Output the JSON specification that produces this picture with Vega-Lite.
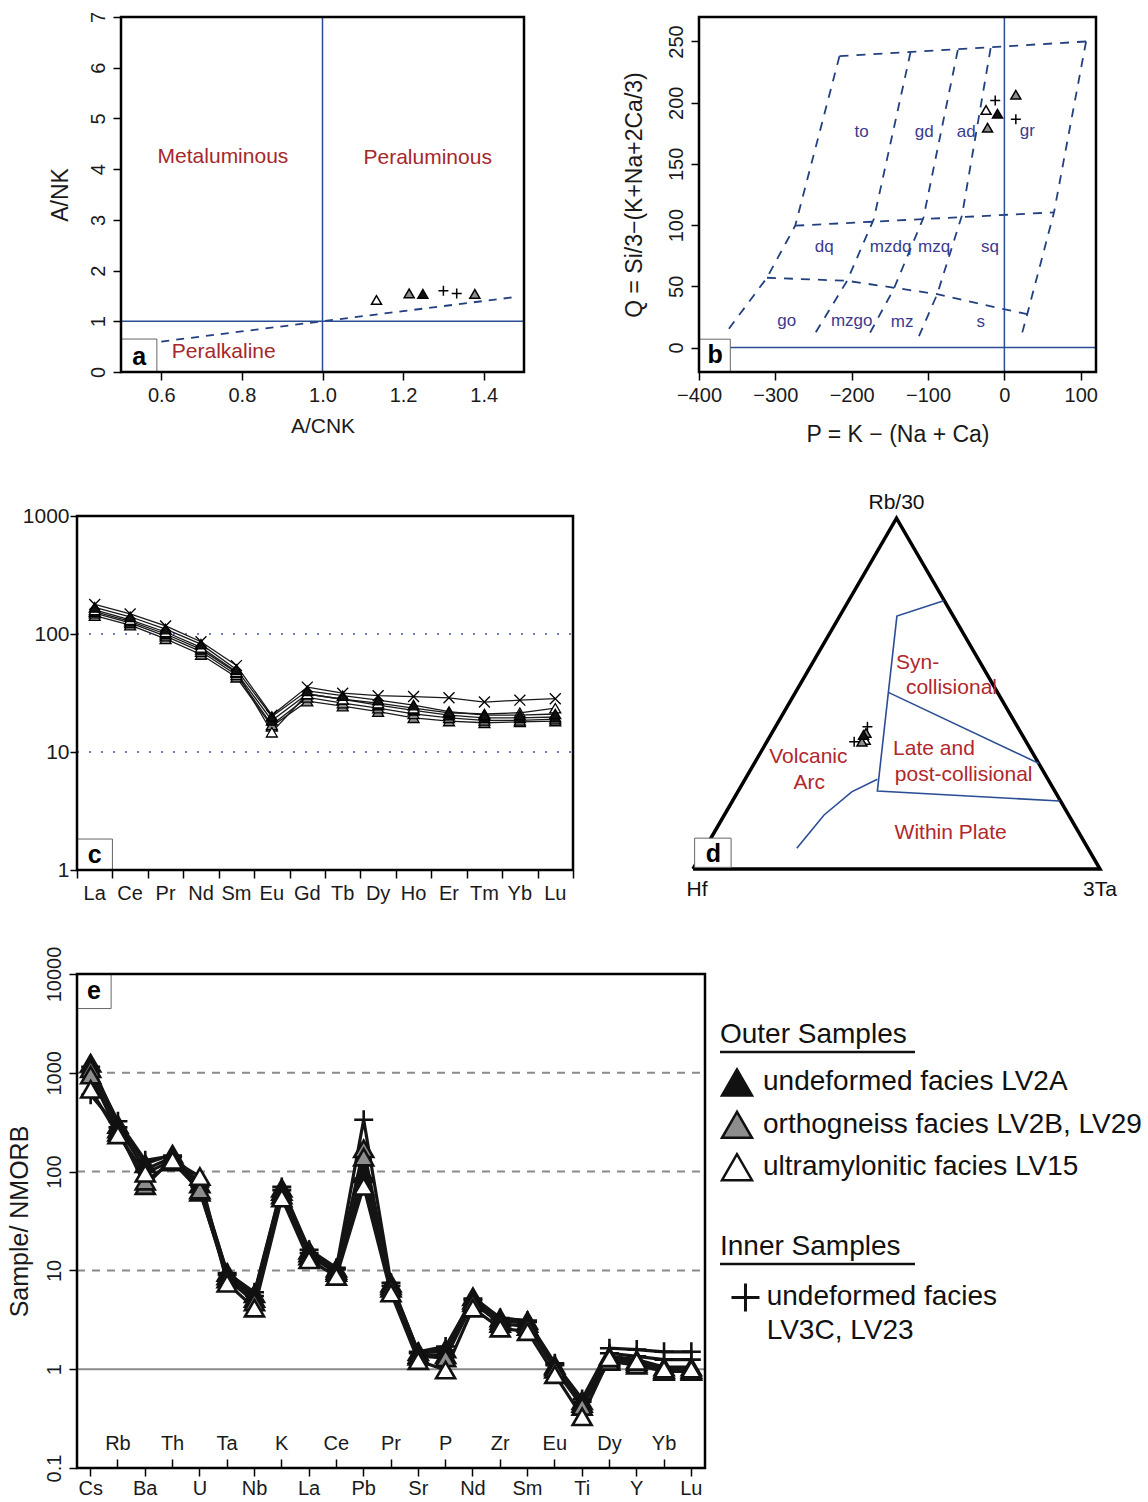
{
"$schema": "https://vega.github.io/schema/vega-lite/v6.json",
"background": "white",
"width": 1148,
"height": 1502,
"autosize": {"type": "none"},
"padding": 0,
"config": {
  "font": "Liberation Sans",
  "view": {"stroke": null},
  "axis": {"domain": false, "grid": false, "ticks": true, "tickColor": "#000", "tickWidth": 1.5, "tickSize": 8, "labelFont": "Liberation Sans", "labelFontSize": 20, "labelColor": "#1a1a1a", "labelPadding": 5, "labelFlush": false, "labelOverlap": false, "labelBound": false, "titleFont": "Liberation Sans", "titleFontSize": 21, "titleFontWeight": "normal", "titleColor": "#1a1a1a"},
  "text": {"font": "Liberation Sans"},
  "point": {"opacity": 1}
},
"datasets": {
  "aLine": [{"acnk": 0.6, "ank": 0.6}, {"acnk": 1.47, "ank": 1.47}],
  "aText": [{"label": "Metaluminous", "acnk": 0.753, "ank": 4.245}, {"label": "Peraluminous", "acnk": 1.261, "ank": 4.226}, {"label": "Peralkaline", "acnk": 0.755, "ank": 0.4}],
  "aPts": [
    {"acnk": 1.134, "ank": 1.42, "facies": "ultramylonitic"},
    {"acnk": 1.215, "ank": 1.55, "facies": "orthogneiss"},
    {"acnk": 1.249, "ank": 1.54, "facies": "undeformed"},
    {"acnk": 1.30, "ank": 1.60, "facies": "inner"},
    {"acnk": 1.333, "ank": 1.55, "facies": "inner"},
    {"acnk": 1.378, "ank": 1.54, "facies": "orthogneiss"}
  ],
  "bGrid": [
    {"seg": 1, "P": -216, "Q": 238}, {"seg": 1, "P": 107, "Q": 250},
    {"seg": 2, "P": -216, "Q": 238}, {"seg": 2, "P": -274, "Q": 99.5}, {"seg": 2, "P": -311, "Q": 57}, {"seg": 2, "P": -366, "Q": 11},
    {"seg": 3, "P": -274, "Q": 99.5}, {"seg": 3, "P": 65, "Q": 110.4},
    {"seg": 4, "P": -311, "Q": 57}, {"seg": 4, "P": -206, "Q": 54.5}, {"seg": 4, "P": -88, "Q": 43.6}, {"seg": 4, "P": -1, "Q": 31.4}, {"seg": 4, "P": 30, "Q": 27.3},
    {"seg": 5, "P": -123, "Q": 241}, {"seg": 5, "P": -171, "Q": 105}, {"seg": 5, "P": -206, "Q": 54.5}, {"seg": 5, "P": -250, "Q": 9.5},
    {"seg": 6, "P": -61, "Q": 243}, {"seg": 6, "P": -106, "Q": 106}, {"seg": 6, "P": -145, "Q": 47.7}, {"seg": 6, "P": -176, "Q": 12},
    {"seg": 7, "P": -18, "Q": 244.5}, {"seg": 7, "P": -55.5, "Q": 108}, {"seg": 7, "P": -88, "Q": 43.6}, {"seg": 7, "P": -114.5, "Q": 5.5},
    {"seg": 8, "P": 107, "Q": 250}, {"seg": 8, "P": 65, "Q": 110.4}, {"seg": 8, "P": 30, "Q": 27.3}, {"seg": 8, "P": 21, "Q": 6.8}
  ],
  "bText": [
    {"label": "to", "P": -187, "Q": 176}, {"label": "gd", "P": -105, "Q": 176}, {"label": "ad", "P": -50, "Q": 176}, {"label": "gr", "P": 30, "Q": 177},
    {"label": "dq", "P": -236, "Q": 82}, {"label": "mzdq", "P": -149, "Q": 82}, {"label": "mzq", "P": -92, "Q": 82}, {"label": "sq", "P": -19, "Q": 82},
    {"label": "go", "P": -285, "Q": 22}, {"label": "mzgo", "P": -200, "Q": 22}, {"label": "mz", "P": -134, "Q": 21}, {"label": "s", "P": -31, "Q": 21}
  ],
  "bPts": [
    {"P": 15, "Q": 206.5, "facies": "orthogneiss"},
    {"P": -12, "Q": 201.7, "facies": "inner"},
    {"P": -24, "Q": 194, "facies": "ultramylonitic"},
    {"P": -9, "Q": 191, "facies": "undeformed"},
    {"P": 15, "Q": 186.5, "facies": "inner"},
    {"P": -22, "Q": 179.5, "facies": "orthogneiss"}
  ],
  "ree": [
    {"sample": "LV29", "facies": "orthogneiss", "La": 143, "Ce": 119, "Pr": 91, "Nd": 67, "Sm": 43, "Eu": 16.5, "Gd": 27, "Tb": 24.5, "Dy": 22, "Ho": 19.5, "Er": 18.3, "Tm": 17.7, "Yb": 18, "Lu": 18.3},
    {"sample": "LV2B", "facies": "orthogneiss", "La": 150, "Ce": 124, "Pr": 96, "Nd": 71, "Sm": 45, "Eu": 17, "Gd": 29, "Tb": 26, "Dy": 23.5, "Ho": 21, "Er": 19.5, "Tm": 18.5, "Yb": 18.5, "Lu": 19},
    {"sample": "LV23", "facies": "undeformed", "La": 155, "Ce": 128, "Pr": 100, "Nd": 74, "Sm": 47, "Eu": 18.5, "Gd": 31, "Tb": 28, "Dy": 25, "Ho": 22.5, "Er": 20.5, "Tm": 19.5, "Yb": 19.5, "Lu": 19.8},
    {"sample": "LV15", "facies": "ultramylonitic", "La": 160, "Ce": 132, "Pr": 104, "Nd": 77, "Sm": 48, "Eu": 14.7, "Gd": 31, "Tb": 28, "Dy": 26, "Ho": 23.5, "Er": 21.5, "Tm": 21, "Yb": 21.5, "Lu": 23.5},
    {"sample": "LV2A", "facies": "undeformed", "La": 168, "Ce": 140, "Pr": 110, "Nd": 82, "Sm": 50, "Eu": 20, "Gd": 33, "Tb": 30, "Dy": 27.5, "Ho": 25, "Er": 22, "Tm": 20.5, "Yb": 20.5, "Lu": 21},
    {"sample": "LV3C", "facies": "inner", "La": 178, "Ce": 148, "Pr": 117, "Nd": 86, "Sm": 54, "Eu": 20.5, "Gd": 35.5, "Tb": 31.5, "Dy": 30, "Ho": 29.5, "Er": 28.8, "Tm": 26.5, "Yb": 27.5, "Lu": 28.3}
  ],
  "dTri": [{"tx": 0, "ty": 0}, {"tx": 1, "ty": 0}, {"tx": 0.5, "ty": 0.864}, {"tx": 0, "ty": 0}],
  "dLines": [
    {"seg": 1, "tx": 0.616, "ty": 0.661}, {"seg": 1, "tx": 0.501, "ty": 0.623}, {"seg": 1, "tx": 0.480, "ty": 0.435}, {"seg": 1, "tx": 0.453, "ty": 0.192}, {"seg": 1, "tx": 0.901, "ty": 0.1675},
    {"seg": 2, "tx": 0.480, "ty": 0.435}, {"seg": 2, "tx": 0.850, "ty": 0.260},
    {"seg": 3, "tx": 0.453, "ty": 0.221}, {"seg": 3, "tx": 0.390, "ty": 0.190}, {"seg": 3, "tx": 0.322, "ty": 0.133}, {"seg": 3, "tx": 0.255, "ty": 0.051}
  ],
  "dText": [
    {"label": "Syn-", "tx": 0.552, "ty": 0.507}, {"label": "collisional", "tx": 0.635, "ty": 0.445},
    {"label": "Late and", "tx": 0.592, "ty": 0.295}, {"label": "post-collisional", "tx": 0.665, "ty": 0.232},
    {"label": "Volcanic", "tx": 0.2835, "ty": 0.277}, {"label": "Arc", "tx": 0.2857, "ty": 0.211},
    {"label": "Within Plate", "tx": 0.633, "ty": 0.088}
  ],
  "dCorner": [{"label": "Rb/30", "tx": 0.5, "ty": 0.901}, {"label": "Hf", "tx": 0.01, "ty": -0.052}, {"label": "3Ta", "tx": 1.0, "ty": -0.052}],
  "dPts": [
    {"tx": 0.4286, "ty": 0.3505, "facies": "inner"},
    {"tx": 0.396, "ty": 0.3135, "facies": "inner"},
    {"tx": 0.423, "ty": 0.318, "facies": "ultramylonitic"},
    {"tx": 0.415, "ty": 0.3135, "facies": "orthogneiss"},
    {"tx": 0.425, "ty": 0.335, "facies": "orthogneiss"},
    {"tx": 0.419, "ty": 0.330, "facies": "undeformed"}
  ],
  "spider": [
    {"sample": "LV3C", "facies": "inner", "Cs": 1150, "Rb": 323, "Ba": 130, "Th": 145, "U": 72, "Ta": 9.4, "Nb": 6.0, "K": 70, "La": 16.2, "Ce": 10.6, "Pb": 335, "Pr": 7.5, "Sr": 1.5, "P": 1.7, "Nd": 5.2, "Zr": 3.3, "Sm": 3.1, "Eu": 1.15, "Ti": 0.5, "Dy": 1.63, "Y": 1.58, "Yb": 1.5, "Lu": 1.5},
    {"sample": "LV23", "facies": "inner", "Cs": 600, "Rb": 280, "Ba": 105, "Th": 140, "U": 70, "Ta": 9.0, "Nb": 5.5, "K": 65, "La": 15, "Ce": 10.2, "Pb": 85, "Pr": 7.0, "Sr": 1.45, "P": 1.55, "Nd": 5.0, "Zr": 3.2, "Sm": 3.0, "Eu": 1.1, "Ti": 0.47, "Dy": 1.45, "Y": 1.35, "Yb": 1.25, "Lu": 1.25},
    {"sample": "LV2A", "facies": "undeformed", "Cs": 1250, "Rb": 300, "Ba": 120, "Th": 150, "U": 75, "Ta": 9.5, "Nb": 5.8, "K": 68, "La": 16, "Ce": 10.5, "Pb": 95, "Pr": 7.4, "Sr": 1.5, "P": 1.6, "Nd": 5.4, "Zr": 3.3, "Sm": 3.1, "Eu": 1.1, "Ti": 0.48, "Dy": 1.35, "Y": 1.25, "Yb": 1.05, "Lu": 1.05},
    {"sample": "LV2B", "facies": "orthogneiss", "Cs": 1100, "Rb": 270, "Ba": 72, "Th": 135, "U": 62, "Ta": 8.8, "Nb": 5.2, "K": 63, "La": 15, "Ce": 10, "Pb": 170, "Pr": 7.0, "Sr": 1.4, "P": 1.4, "Nd": 5.0, "Zr": 3.1, "Sm": 2.9, "Eu": 1.05, "Ti": 0.45, "Dy": 1.25, "Y": 1.15, "Yb": 0.98, "Lu": 0.98},
    {"sample": "LV29", "facies": "orthogneiss", "Cs": 950, "Rb": 250, "Ba": 80, "Th": 125, "U": 65, "Ta": 8.2, "Nb": 4.8, "K": 58, "La": 14, "Ce": 9.5, "Pb": 140, "Pr": 6.6, "Sr": 1.35, "P": 1.3, "Nd": 4.7, "Zr": 2.9, "Sm": 2.7, "Eu": 1.0, "Ti": 0.42, "Dy": 1.2, "Y": 1.1, "Yb": 0.95, "Lu": 0.95},
    {"sample": "LV15", "facies": "ultramylonitic", "Cs": 680, "Rb": 235, "Ba": 96, "Th": 130, "U": 89, "Ta": 7.4, "Nb": 4.15, "K": 54, "La": 12.8, "Ce": 8.7, "Pb": 71, "Pr": 5.9, "Sr": 1.22, "P": 0.98, "Nd": 4.15, "Zr": 2.6, "Sm": 2.4, "Eu": 0.88, "Ti": 0.33, "Dy": 1.3, "Y": 1.2, "Yb": 1.0, "Lu": 1.0}
  ],
  "legendRows": [
    {"line": 0, "kind": "title", "label": "Outer Samples"},
    {"line": 5, "kind": "title", "label": "Inner Samples"},
    {"line": 1, "kind": "outer", "label": "undeformed facies LV2A", "facies": "undeformed"},
    {"line": 2, "kind": "outer", "label": "orthogneiss facies LV2B, LV29", "facies": "orthogneiss"},
    {"line": 3, "kind": "outer", "label": "ultramylonitic facies LV15", "facies": "ultramylonitic"},
    {"line": 6, "kind": "inner1", "label": "undeformed facies", "facies": "inner"},
    {"line": 7, "kind": "inner2", "label": "LV3C, LV23"}
  ]
},
"resolve": {"scale": {"x": "independent", "y": "independent", "shape": "independent", "fill": "independent"}, "axis": {"x": "independent", "y": "independent"}},
"layer": [
  {
    "layer": [
      {"data": {"name": "aLine"}, "mark": {"type": "line", "stroke": "#22407f", "strokeWidth": 1.8, "strokeDash": [8, 7]},
       "encoding": {
         "x": {"field": "acnk", "type": "quantitative", "scale": {"domain": [0.5, 1.5], "range": [121, 524], "nice": false, "zero": false}, "axis": {"orient": "bottom", "offset": -1130, "values": [0.6, 0.8, 1.0, 1.2, 1.4], "format": ".1f", "title": "A/CNK", "titlePadding": 10}},
         "y": {"field": "ank", "type": "quantitative", "scale": {"domain": [0, 7], "range": [372, 17], "nice": false, "zero": false}, "axis": {"orient": "left", "offset": -121, "values": [0, 1, 2, 3, 4, 5, 6, 7], "format": "d", "labelAngle": -90, "labelAlign": "center", "labelBaseline": "bottom", "title": "A/NK", "titlePadding": 16, "titleFontSize": 23}}
       }},
      {"data": {"values": [{}]}, "mark": {"type": "rule", "stroke": "#2b4d94", "strokeWidth": 1.5}, "encoding": {"x": {"datum": 1}, "y": {"datum": 0}, "y2": {"datum": 7}}},
      {"data": {"values": [{}]}, "mark": {"type": "rule", "stroke": "#2b4d94", "strokeWidth": 1.5}, "encoding": {"y": {"datum": 1}, "x": {"datum": 0.5}, "x2": {"datum": 1.5}}},
      {"data": {"name": "aText"}, "mark": {"type": "text", "color": "#a5282c", "fontSize": 21, "align": "center", "baseline": "middle"},
       "encoding": {"x": {"field": "acnk", "type": "quantitative"}, "y": {"field": "ank", "type": "quantitative"}, "text": {"field": "label"}}},
      {"data": {"values": [{}]}, "mark": {"type": "rect", "fill": "white", "stroke": "#666", "strokeWidth": 1}, "encoding": {"x": {"datum": 0.5}, "x2": {"datum": 0.589}, "y": {"datum": 0}, "y2": {"datum": 0.65}}},
      {"data": {"values": [{}]}, "mark": {"type": "text", "text": "a", "fontSize": 25, "fontWeight": "bold", "align": "center", "baseline": "middle", "color": "#000"}, "encoding": {"x": {"datum": 0.545}, "y": {"datum": 0.3}}},
      {"data": {"name": "aPts"}, "mark": {"type": "point", "filled": true, "size": 100, "strokeWidth": 1.5, "opacity": 1},
       "encoding": {
         "x": {"field": "acnk", "type": "quantitative"}, "y": {"field": "ank", "type": "quantitative"},
         "shape": {"field": "facies", "type": "nominal", "scale": {"domain": ["undeformed", "orthogneiss", "ultramylonitic", "inner"], "range": ["triangle-up", "triangle-up", "triangle-up", "M-1,0H1M0,-1V1"]}, "legend": null},
         "fill": {"field": "facies", "type": "nominal", "scale": {"domain": ["undeformed", "orthogneiss", "ultramylonitic", "inner"], "range": ["#111111", "#8d8d8d", "#ffffff", "transparent"]}, "legend": null},
         "stroke": {"value": "#000"}
       }},
      {"data": {"values": [{}]}, "mark": {"type": "rect", "fill": "transparent", "stroke": "#000", "strokeWidth": 2.5}, "encoding": {"x": {"datum": 0.5}, "x2": {"datum": 1.5}, "y": {"datum": 0}, "y2": {"datum": 7}}}
    ]
  },
  {
    "layer": [
      {"data": {"name": "bGrid"}, "mark": {"type": "line", "stroke": "#22407f", "strokeWidth": 1.8, "strokeDash": [9, 8]},
       "encoding": {
         "x": {"field": "P", "type": "quantitative", "scale": {"domain": [-400, 120], "range": [699, 1096], "nice": false, "zero": false}, "axis": {"orient": "bottom", "offset": -1130, "values": [-400, -300, -200, -100, 0, 100], "title": "P = K − (Na + Ca)", "titleFontSize": 23, "titlePadding": 18}},
         "y": {"field": "Q", "type": "quantitative", "scale": {"domain": [-20, 270], "range": [372, 17], "nice": false, "zero": false}, "axis": {"orient": "left", "offset": -699, "values": [0, 50, 100, 150, 200, 250], "labelAngle": -90, "labelAlign": "center", "labelBaseline": "bottom", "title": "Q = Si/3−(K+Na+2Ca/3)", "titleFontSize": 23, "titlePadding": 20}},
         "detail": {"field": "seg"},
         "order": {"value": null}
       }},
      {"data": {"values": [{}]}, "mark": {"type": "rule", "stroke": "#2b4d94", "strokeWidth": 1.5}, "encoding": {"x": {"datum": 0}, "y": {"datum": -20}, "y2": {"datum": 270}}},
      {"data": {"values": [{}]}, "mark": {"type": "rule", "stroke": "#2b4d94", "strokeWidth": 1.5}, "encoding": {"y": {"datum": 0}, "x": {"datum": -400}, "x2": {"datum": 120}}},
      {"data": {"name": "bText"}, "mark": {"type": "text", "color": "#3b3b8e", "fontSize": 17, "align": "center", "baseline": "middle"},
       "encoding": {"x": {"field": "P", "type": "quantitative"}, "y": {"field": "Q", "type": "quantitative"}, "text": {"field": "label"}}},
      {"data": {"values": [{}]}, "mark": {"type": "rect", "fill": "white", "stroke": "#666", "strokeWidth": 1}, "encoding": {"x": {"datum": -400}, "x2": {"datum": -359}, "y": {"datum": -20}, "y2": {"datum": 6.8}}},
      {"data": {"values": [{}]}, "mark": {"type": "text", "text": "b", "fontSize": 25, "fontWeight": "bold", "align": "center", "baseline": "middle", "color": "#000"}, "encoding": {"x": {"datum": -379}, "y": {"datum": -6.5}}},
      {"data": {"name": "bPts"}, "mark": {"type": "point", "filled": true, "size": 100, "strokeWidth": 1.5, "opacity": 1},
       "encoding": {
         "x": {"field": "P", "type": "quantitative"}, "y": {"field": "Q", "type": "quantitative"},
         "shape": {"field": "facies", "type": "nominal", "scale": {"domain": ["undeformed", "orthogneiss", "ultramylonitic", "inner"], "range": ["triangle-up", "triangle-up", "triangle-up", "M-1,0H1M0,-1V1"]}, "legend": null},
         "fill": {"field": "facies", "type": "nominal", "scale": {"domain": ["undeformed", "orthogneiss", "ultramylonitic", "inner"], "range": ["#111111", "#8d8d8d", "#ffffff", "transparent"]}, "legend": null},
         "stroke": {"value": "#000"}
       }},
      {"data": {"values": [{}]}, "mark": {"type": "rect", "fill": "transparent", "stroke": "#000", "strokeWidth": 2.5}, "encoding": {"x": {"datum": -400}, "x2": {"datum": 120}, "y": {"datum": -20}, "y2": {"datum": 270}}}
    ]
  },
  {
    "resolve": {"axis": {"x": "independent"}},
    "layer": [
      {"data": {"values": [{"g": 10}, {"g": 100}]}, "mark": {"type": "rule", "stroke": "#6f80b8", "strokeWidth": 2, "strokeDash": [2, 10]},
       "encoding": {"y": {"field": "g", "type": "quantitative"}, "x": {"datum": "La", "bandPosition": 0, "axis": null}, "x2": {"datum": "Lu", "bandPosition": 1}}},
      {"data": {"name": "ree"}, "transform": [{"fold": ["La", "Ce", "Pr", "Nd", "Sm", "Eu", "Gd", "Tb", "Dy", "Ho", "Er", "Tm", "Yb", "Lu"], "as": ["el", "v"]}],
       "mark": {"type": "line", "stroke": "#1a1a1a", "strokeWidth": 1.3},
       "encoding": {
         "x": {"field": "el", "type": "nominal", "scale": {"type": "band", "domain": ["La", "Ce", "Pr", "Nd", "Sm", "Eu", "Gd", "Tb", "Dy", "Ho", "Er", "Tm", "Yb", "Lu"], "range": [77, 573], "paddingInner": 0, "paddingOuter": 0}, "axis": {"orient": "bottom", "offset": -632, "title": null, "tickBand": "extent", "labels": false, "tickSize": 8}},
         "y": {"field": "v", "type": "quantitative", "scale": {"type": "log", "domain": [1, 1000], "range": [870, 516], "nice": false}, "axis": {"orient": "left", "offset": -77, "values": [1, 10, 100, 1000], "format": "d", "title": null, "labelPadding": 1, "tickSize": 7, "labelFontSize": 21}},
         "detail": {"field": "sample"},
         "order": {"value": null}
       }},
      {"data": {"values": [{}]}, "mark": {"type": "rect", "fill": "white", "stroke": "#666", "strokeWidth": 1}, "encoding": {"x": {"datum": "La", "axis": null}, "y": {"datum": 1}, "y2": {"datum": 1.83}}},
      {"data": {"values": [{}]}, "mark": {"type": "text", "text": "c", "fontSize": 25, "fontWeight": "bold", "align": "center", "baseline": "middle", "color": "#000"}, "encoding": {"x": {"datum": "La", "axis": null}, "y": {"datum": 1.33}}},
      {"data": {"name": "ree"}, "transform": [{"fold": ["La", "Ce", "Pr", "Nd", "Sm", "Eu", "Gd", "Tb", "Dy", "Ho", "Er", "Tm", "Yb", "Lu"], "as": ["el", "v"]}],
       "mark": {"type": "point", "filled": true, "size": 120, "strokeWidth": 1.3, "opacity": 1},
       "encoding": {
         "x": {"field": "el", "type": "nominal", "axis": {"orient": "bottom", "offset": -632, "title": null, "ticks": false, "labelAngle": 0, "labelPadding": 13}},
         "y": {"field": "v", "type": "quantitative"},
         "shape": {"field": "facies", "type": "nominal", "scale": {"domain": ["undeformed", "orthogneiss", "ultramylonitic", "inner"], "range": ["triangle-up", "triangle-up", "triangle-up", "M-1,-1L1,1M1,-1L-1,1"]}, "legend": null},
         "fill": {"field": "facies", "type": "nominal", "scale": {"domain": ["undeformed", "orthogneiss", "ultramylonitic", "inner"], "range": ["#111111", "#8d8d8d", "#ffffff", "transparent"]}, "legend": null},
         "stroke": {"value": "#000"}
       }},
      {"data": {"values": [{}]}, "mark": {"type": "rect", "fill": "transparent", "stroke": "#000", "strokeWidth": 2.5}, "encoding": {"x": {"datum": "La", "bandPosition": 0, "axis": null}, "x2": {"datum": "Lu", "bandPosition": 1}, "y": {"datum": 1}, "y2": {"datum": 1000}}}
    ]
  },
  {
    "layer": [
      {"data": {"name": "dTri"}, "mark": {"type": "line", "stroke": "#000", "strokeWidth": 3.5, "strokeJoin": "miter"},
       "encoding": {
         "x": {"field": "tx", "type": "quantitative", "scale": {"domain": [0, 1], "range": [693, 1100], "nice": false, "zero": false}, "axis": null},
         "y": {"field": "ty", "type": "quantitative", "scale": {"domain": [0, 0.8695], "range": [869, 516], "nice": false, "zero": false}, "axis": null},
         "order": {"value": null}
       }},
      {"data": {"name": "dLines"}, "mark": {"type": "line", "stroke": "#2b4d94", "strokeWidth": 1.6},
       "encoding": {"x": {"field": "tx", "type": "quantitative"}, "y": {"field": "ty", "type": "quantitative"}, "detail": {"field": "seg"}, "order": {"value": null}}},
      {"data": {"name": "dText"}, "mark": {"type": "text", "color": "#b0282d", "fontSize": 21, "align": "center", "baseline": "middle"},
       "encoding": {"x": {"field": "tx", "type": "quantitative"}, "y": {"field": "ty", "type": "quantitative"}, "text": {"field": "label"}}},
      {"data": {"name": "dCorner"}, "mark": {"type": "text", "color": "#111", "fontSize": 21, "align": "center", "baseline": "middle"},
       "encoding": {"x": {"field": "tx", "type": "quantitative"}, "y": {"field": "ty", "type": "quantitative"}, "text": {"field": "label"}}},
      {"data": {"values": [{}]}, "mark": {"type": "rect", "fill": "white", "stroke": "#666", "strokeWidth": 1}, "encoding": {"x": {"datum": 0.004}, "x2": {"datum": 0.0936}, "y": {"datum": 0.004}, "y2": {"datum": 0.076}}},
      {"data": {"values": [{}]}, "mark": {"type": "text", "text": "d", "fontSize": 25, "fontWeight": "bold", "align": "center", "baseline": "middle", "color": "#000"}, "encoding": {"x": {"datum": 0.05}, "y": {"datum": 0.036}}},
      {"data": {"name": "dPts"}, "mark": {"type": "point", "filled": true, "size": 100, "strokeWidth": 1.5, "opacity": 1},
       "encoding": {
         "x": {"field": "tx", "type": "quantitative"}, "y": {"field": "ty", "type": "quantitative"},
         "shape": {"field": "facies", "type": "nominal", "scale": {"domain": ["undeformed", "orthogneiss", "ultramylonitic", "inner"], "range": ["triangle-up", "triangle-up", "triangle-up", "M-1,0H1M0,-1V1"]}, "legend": null},
         "fill": {"field": "facies", "type": "nominal", "scale": {"domain": ["undeformed", "orthogneiss", "ultramylonitic", "inner"], "range": ["#111111", "#8d8d8d", "#ffffff", "transparent"]}, "legend": null},
         "stroke": {"value": "#000"}
       }}
    ]
  },
  {
    "resolve": {"axis": {"x": "independent"}},
    "layer": [
      {"data": {"values": [{}]}, "mark": {"type": "rule", "stroke": "#8a8a8a", "strokeWidth": 2}, "encoding": {"y": {"datum": 1}, "x": {"datum": "Cs", "bandPosition": 0, "axis": null}, "x2": {"datum": "Lu", "bandPosition": 1}}},
      {"data": {"values": [{"g": 10}, {"g": 100}, {"g": 1000}]}, "mark": {"type": "rule", "stroke": "#8a8a8a", "strokeWidth": 2, "strokeDash": [8, 7]}, "encoding": {"y": {"field": "g", "type": "quantitative"}, "x": {"datum": "Cs", "bandPosition": 0, "axis": null}, "x2": {"datum": "Lu", "bandPosition": 1}}},
      {"data": {"values": [{}]}, "mark": {"type": "rect", "fill": "white", "stroke": "#666", "strokeWidth": 1}, "encoding": {"x": {"datum": "Cs", "bandPosition": 0, "axis": null}, "x2": {"datum": "Rb", "bandPosition": 0.25}, "y": {"datum": 10000}, "y2": {"datum": 4470}}},
      {"data": {"values": [{}]}, "mark": {"type": "text", "text": "e", "fontSize": 25, "fontWeight": "bold", "align": "center", "baseline": "middle", "color": "#000"}, "encoding": {"x": {"datum": "Cs", "bandPosition": 0.62, "axis": null}, "y": {"datum": 6700}}},
      {"data": {"name": "spider"}, "transform": [{"fold": ["Cs", "Rb", "Ba", "Th", "U", "Ta", "Nb", "K", "La", "Ce", "Pb", "Pr", "Sr", "P", "Nd", "Zr", "Sm", "Eu", "Ti", "Dy", "Y", "Yb", "Lu"], "as": ["el", "v"]}],
       "mark": {"type": "line", "stroke": "#151515", "strokeWidth": 3.2},
       "encoding": {
         "x": {"field": "el", "type": "nominal", "scale": {"type": "band", "domain": ["Cs", "Rb", "Ba", "Th", "U", "Ta", "Nb", "K", "La", "Ce", "Pb", "Pr", "Sr", "P", "Nd", "Zr", "Sm", "Eu", "Ti", "Dy", "Y", "Yb", "Lu"], "range": [77, 705], "paddingInner": 0, "paddingOuter": 0}, "axis": {"orient": "bottom", "offset": -34, "values": ["Cs", "Ba", "U", "Nb", "La", "Pb", "Sr", "Nd", "Sm", "Ti", "Y", "Lu"], "title": null, "labelAngle": 0, "tickSize": 8, "labelPadding": 2}},
         "y": {"field": "v", "type": "quantitative", "scale": {"type": "log", "domain": [0.1, 10000], "range": [1468, 974], "nice": false}, "axis": {"orient": "left", "offset": -77, "values": [0.1, 1, 10, 100, 1000, 10000], "format": "~g", "labelAngle": -90, "labelAlign": "center", "labelBaseline": "bottom", "title": "Sample/ NMORB", "titleFontSize": 25, "titlePadding": 12}},
         "detail": {"field": "sample"},
         "order": {"value": null}
       }},
      {"data": {"name": "spider"}, "transform": [{"fold": ["Cs", "Rb", "Ba", "Th", "U", "Ta", "Nb", "K", "La", "Ce", "Pb", "Pr", "Sr", "P", "Nd", "Zr", "Sm", "Eu", "Ti", "Dy", "Y", "Yb", "Lu"], "as": ["el", "v"]}],
       "mark": {"type": "point", "filled": true, "size": 360, "strokeWidth": 2.6, "opacity": 1},
       "encoding": {
         "x": {"field": "el", "type": "nominal", "axis": {"orient": "bottom", "offset": -34, "values": ["Rb", "Th", "Ta", "K", "Ce", "Pr", "P", "Zr", "Eu", "Dy", "Yb"], "title": null, "labelAngle": 0, "tickSize": -9, "labelPadding": -26}},
         "y": {"field": "v", "type": "quantitative"},
         "shape": {"field": "facies", "type": "nominal", "scale": {"domain": ["undeformed", "orthogneiss", "ultramylonitic", "inner"], "range": ["triangle-up", "triangle-up", "triangle-up", "M-1,0H1M0,-1V1"]}, "legend": null},
         "fill": {"field": "facies", "type": "nominal", "scale": {"domain": ["undeformed", "orthogneiss", "ultramylonitic", "inner"], "range": ["#111111", "#8d8d8d", "#ffffff", "transparent"]}, "legend": null},
         "stroke": {"value": "#111"}
       }},
      {"data": {"values": [{}]}, "mark": {"type": "rect", "fill": "transparent", "stroke": "#000", "strokeWidth": 2.5}, "encoding": {"x": {"datum": "Cs", "bandPosition": 0, "axis": null}, "x2": {"datum": "Lu", "bandPosition": 1}, "y": {"datum": 0.1}, "y2": {"datum": 10000}}}
    ]
  },
  {
    "data": {"name": "legendRows"},
    "layer": [
      {"transform": [{"filter": "datum.kind == 'title'"}], "mark": {"type": "text", "fontSize": 28, "align": "left", "baseline": "middle", "color": "#111"},
       "encoding": {
         "x": {"datum": 0.0115, "scale": {"domain": [0, 1], "range": [715, 1148], "nice": false, "zero": false}, "axis": null},
         "y": {"field": "line", "type": "quantitative", "scale": {"domain": [-1.4387, 10.212], "range": [974, 1468], "nice": false, "zero": false}, "axis": null},
         "text": {"field": "label"}
       }},
      {"transform": [{"filter": "datum.kind == 'title'"}], "mark": {"type": "rule", "stroke": "#111", "strokeWidth": 2.5, "yOffset": 17},
       "encoding": {"x": {"datum": 0.0115}, "x2": {"datum": 0.4619}, "y": {"field": "line", "type": "quantitative"}}},
      {"transform": [{"filter": "datum.kind == 'outer'"}], "mark": {"type": "point", "filled": true, "size": 900, "strokeWidth": 2.5, "opacity": 1, "yOffset": 5},
       "encoding": {
         "x": {"datum": 0.0508}, "y": {"field": "line", "type": "quantitative"},
         "shape": {"field": "facies", "type": "nominal", "scale": {"domain": ["undeformed", "orthogneiss", "ultramylonitic", "inner"], "range": ["triangle-up", "triangle-up", "triangle-up", "M-1,0H1M0,-1V1"]}, "legend": null},
         "fill": {"field": "facies", "type": "nominal", "scale": {"domain": ["undeformed", "orthogneiss", "ultramylonitic", "inner"], "range": ["#111111", "#8d8d8d", "#ffffff", "transparent"]}, "legend": null},
         "stroke": {"value": "#111"}
       }},
      {"transform": [{"filter": "datum.kind == 'outer'"}], "mark": {"type": "text", "fontSize": 28, "align": "left", "baseline": "middle", "color": "#111", "dy": 5},
       "encoding": {"x": {"datum": 0.1109}, "y": {"field": "line", "type": "quantitative"}, "text": {"field": "label"}}},
      {"transform": [{"filter": "datum.kind == 'inner1'"}], "mark": {"type": "point", "shape": "M-1,0H1M0,-1V1", "filled": false, "size": 784, "strokeWidth": 3, "stroke": "#111", "opacity": 1, "yOffset": 8},
       "encoding": {"x": {"datum": 0.0704}, "y": {"field": "line", "type": "quantitative"}}},
      {"transform": [{"filter": "datum.kind == 'inner1'"}], "mark": {"type": "text", "fontSize": 28, "align": "left", "baseline": "middle", "color": "#111", "dy": 8},
       "encoding": {"x": {"datum": 0.1194}, "y": {"field": "line", "type": "quantitative"}, "text": {"field": "label"}}},
      {"transform": [{"filter": "datum.kind == 'inner2'"}], "mark": {"type": "text", "fontSize": 28, "align": "left", "baseline": "middle", "color": "#111", "dy": -1},
       "encoding": {"x": {"datum": 0.1194}, "y": {"field": "line", "type": "quantitative"}, "text": {"field": "label"}}}
    ]
  }
]
}
